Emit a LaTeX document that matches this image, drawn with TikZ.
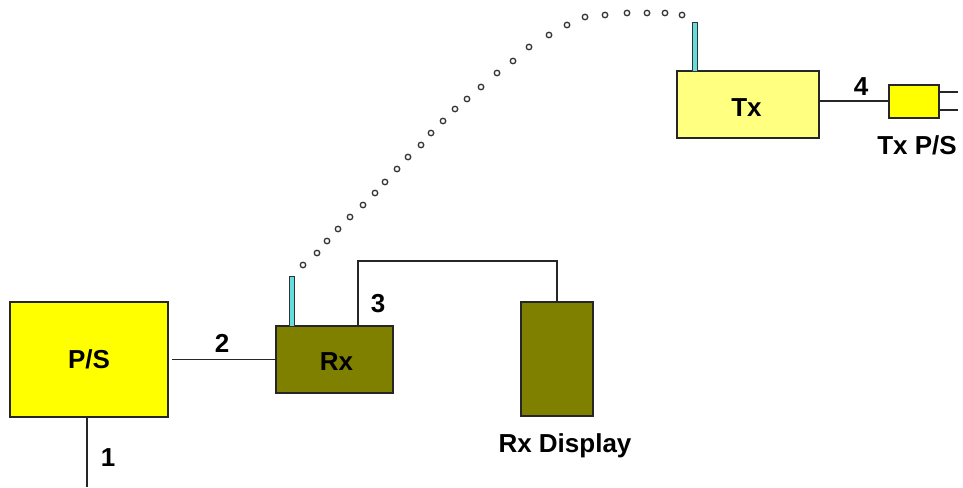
\documentclass[tikz,border=0pt]{standalone}
\usepackage{fontspec}
\setmainfont{Liberation Sans}
\begin{document}
\begin{tikzpicture}[x=1pt,y=-1pt,
  box/.style={draw=black!85,line width=2pt,inner sep=0pt,outer sep=0pt,font=\fontsize{26}{30}\selectfont\bfseries},
  antenna/.style={draw=black!80,fill=antcyan,line width=1pt,minimum width=4.5pt,inner sep=0pt,outer sep=0pt},
  wire/.style={draw=black!85,line width=1.8pt},
  lbl/.style={font=\fontsize{26}{30}\selectfont\bfseries,inner sep=0pt,anchor=base},
  sigdot/.style={circle,draw=black!80,line width=1.3pt,minimum size=5.5pt,inner sep=0pt,fill=white}]
\definecolor{psyellow}{HTML}{FFFF00}
\definecolor{txyellow}{HTML}{FFFF80}
\definecolor{olivebox}{HTML}{808000}
\definecolor{antcyan}{HTML}{66DDDD}
\useasboundingbox[fill=white] (0,0) rectangle (963,487);
% boxes
\node[box,fill=psyellow,minimum width=158pt,minimum height=115pt] (ps) at (89,359.5) {P/S};
\node[box,fill=olivebox,minimum width=117pt,minimum height=67pt] (rx) at (334.5,359.5) {\hspace*{4pt}\raisebox{-2pt}[\height][\depth]{Rx}};
\node[box,fill=olivebox,minimum width=72pt,minimum height=114pt] (disp) at (557,359) {};
\node[box,fill=txyellow,minimum width=142pt,minimum height=67pt] (tx) at (748,104.5) {\raisebox{-3pt}[\height][\depth]{Tx}\hspace*{3pt}};
\node[box,fill=psyellow,minimum width=50pt,minimum height=33pt] (txps) at (914,101) {};
% antennas
\node[antenna,minimum height=50pt,anchor=south] (rxant) at (292,326) {};
\node[antenna,minimum height=49pt,anchor=south] (txant) at (695,71.5) {};
% connectors
\coordinate (end1) at (87,487);
\draw[wire] ([xshift=-2pt]ps.south) -- (end1);
\draw[wire] ([xshift=4pt]ps.east) -- (rx.west);
\coordinate (c3) at (557,261);
\draw[wire] ([xshift=82pt]rx.north west) |- (c3) -- (disp.north);
\draw[wire] (tx.east |- txps.west) -- (txps.west);
\coordinate (pr1) at (958,92);
\coordinate (pr2) at (958,110);
\draw[wire] (txps.east |- pr1) -- (pr1);
\draw[wire] (txps.east |- pr2) -- (pr2);
% labels
\node[lbl] (l1) at (108,466) {1};
\node[lbl] (l2) at (222,352) {2};
\node[lbl] (l3) at (378,312) {3};
\node[lbl] (l4) at (861,95) {4};
\node[lbl] (ldisp) at (565,452) {Rx Display};
\node[lbl] (ltxps) at (917,154) {Tx P/S};
% radio link
\foreach \px/\py [count=\i] in {303/265,317/253,327/241,338/229,350/217,363/205,375/193,385/182,397/169,408/157,421/145,431/133,443/121,455/109,467/99,481/87,497/73,513/61,529/47,549/35,567/25,585/17,605/15,627/13,647/13,665/13,682/15}
  \node[sigdot] (d\i) at (\px,\py) {};
\end{tikzpicture}
\end{document}
